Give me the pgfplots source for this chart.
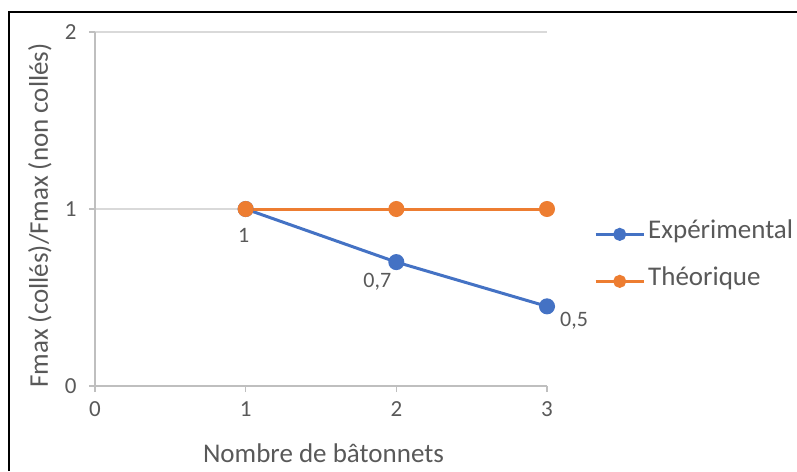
\documentclass[border=0pt]{standalone}
\usepackage{fontspec}
\setmainfont{Carlito}
\usepackage{pgfplots}
\usepackage{pgfplotstable}
\pgfplotsset{compat=1.18}

\definecolor{expblue}{HTML}{4472C4}
\definecolor{theoorange}{HTML}{ED7D31}
\definecolor{txtgray}{HTML}{595959}
\definecolor{axgray}{HTML}{BFBFBF}
\definecolor{gridgray}{HTML}{D9D9D9}

% measured ratio; dx/dy place each value label around its point
\pgfplotstableread{
x y dx dy
1 1 -2 -26
2 0.7 -19 -20
3 0.45 27 -14
}\experimental

\pgfplotstableread{
x y
1 1
2 1
3 1
}\theorique

\begin{document}
\begin{tikzpicture}
\path[use as bounding box] (0pt,0pt) rectangle (797pt,-471pt);
\draw[line width=2pt,black] (9pt,-471pt) -- (9pt,-12pt) -- (797pt,-12pt);
\begin{axis}[
  at={(95pt,-386pt)}, anchor=south west,
  scale only axis, width=452pt, height=354pt,
  xmin=0, xmax=3, ymin=0, ymax=2,
  xtick={0,1,2,3}, ytick={0,1,2},
  axis x line=bottom, axis y line=left,
  axis line style={-, axgray, line width=1.3pt},
  tick align=outside, major tick length=6pt,
  tick style={axgray, line width=1.3pt},
  ymajorgrids, grid style={gridgray, line width=1.3pt},
  /pgf/number format/assume math mode=true,
  ticklabel style={font=\fontsize{23}{27}\selectfont, text=txtgray},
  yticklabel style={xshift=-9pt},
  xticklabel style={yshift=-6pt},
  xlabel={Nombre de bâtonnets},
  ylabel={Fmax (collés)/Fmax (non collés)},
  every axis x label/.style={at={(axis description cs:0.5055,-0.2147)}, anchor=base,
    font=\fontsize{27}{32}\selectfont, text=txtgray},
  every axis y label/.style={at={(axis description cs:-0.1217,0.482)}, rotate=90, anchor=center,
    font=\fontsize{27}{32}\selectfont, text=txtgray},
  legend style={at={(axis description cs:1.104,0.362)}, anchor=west, draw=none, fill=none,
    inner sep=0pt, row sep=26pt,
    font=\fontsize{27}{32}\selectfont, text=txtgray,
    nodes={inner xsep=3pt, inner ysep=0pt, text height=15pt, text depth=6pt}},
  legend cell align=left,
  legend image code/.code={
    \draw[#1, mark=none] (0pt,0pt) -- (48pt,0pt);
    \draw[#1, mark size=5pt] plot coordinates {(24pt,0pt)};
  },
  clip=false,
]
\addplot[expblue, line width=3pt, mark=*, mark size=6.5pt,
  mark options={fill=expblue, draw=expblue},
  nodes near coords,
  point meta=y,
  visualization depends on={\thisrow{dx} \as \dx},
  visualization depends on={\thisrow{dy} \as \dy},
  every node near coord/.append style={anchor=center, xshift=\dx pt, yshift=\dy pt,
    font=\fontsize{22}{26}\selectfont, text=txtgray,
    /pgf/number format/.cd, use comma, fixed, precision=1, assume math mode=true},
] table[x=x, y=y] {\experimental};
\addlegendentry{Expérimental}
\addplot[theoorange, line width=3pt, mark=*, mark size=6.5pt,
  mark options={fill=theoorange, draw=theoorange}]
  table[x=x, y=y] {\theorique};
\addlegendentry{Théorique}
\end{axis}
\end{tikzpicture}
\end{document}
